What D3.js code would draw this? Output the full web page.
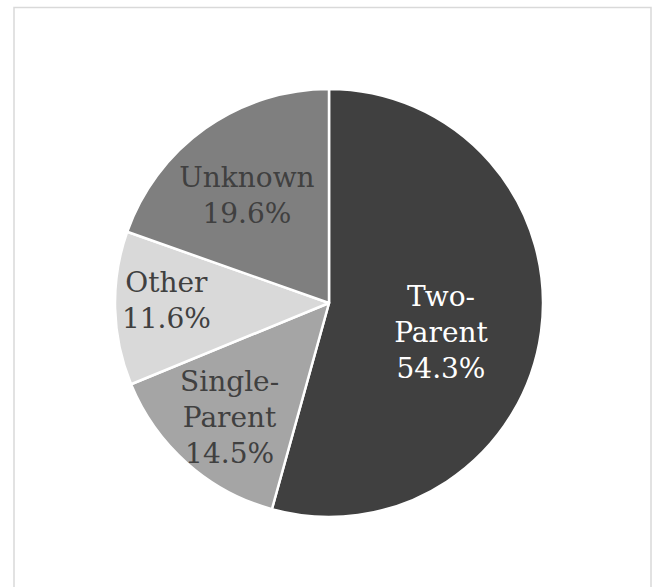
<!DOCTYPE html>
<html>
<head>
<meta charset="utf-8">
<script src="https://cdn.jsdelivr.net/npm/d3@7"></script>
<style>
  html, body { margin: 0; padding: 0; background: #ffffff; }
  svg { display: block; }
</style>
</head>
<body>
<svg id="chart" width="655" height="587"></svg>
<script>
// ---- data ----
const categories = ["Two-Parent", "Single-Parent", "Other", "Unknown"];
const labelLines = [["Two-", "Parent"], ["Single-", "Parent"], ["Other"], ["Unknown"]];
const shares = [54.3, 14.5, 11.6, 19.6];
const percentLabels = ["54.3%", "14.5%", "11.6%", "19.6%"];

// ---- layout / style ----
const W = 655, H = 587;
const cx = 329, cy = 303, R = 214;
const fills = ["#404040", "#a5a5a5", "#d9d9d9", "#7f7f7f"];
const textFills = ["#ffffff", "#404040", "#404040", "#404040"];
const labelRadiusFactor = [0.54, 0.70, 0.76, 0.64];
const labelShift = [[-2.5, 13.5], [0, 1.5], [0, -7], [-3, 4]];
const lineHeight = 36;
const fontSize = 28;

const svg = d3.select("#chart");

svg.append("rect")
  .attr("x", 14).attr("y", 7.5)
  .attr("width", 637).attr("height", 620)
  .attr("fill", "#ffffff")
  .attr("stroke", "#d9d9d9")
  .attr("stroke-width", 1.5);

const data = categories.map((c, i) => ({ name: c, value: shares[i], i }));

const pie = d3.pie().value(d => d.value).sort(null);
const arcs = pie(data);
const arc = d3.arc().innerRadius(0).outerRadius(R);

const g = svg.append("g").attr("transform", `translate(${cx},${cy})`);

g.selectAll("path.slice")
  .data(arcs)
  .enter().append("path")
  .attr("class", "slice")
  .attr("d", arc)
  .attr("fill", d => fills[d.data.i])
  .attr("stroke", "#ffffff")
  .attr("stroke-width", 2.5)
  .attr("stroke-linejoin", "round");

g.selectAll("text.lbl")
  .data(arcs)
  .enter().append("text")
  .attr("class", "lbl")
  .attr("text-anchor", "middle")
  .attr("font-family", "'DejaVu Serif', serif")
  .attr("font-size", fontSize)
  .attr("fill", d => textFills[d.data.i])
  .each(function(d) {
    const lr = R * labelRadiusFactor[d.data.i];
    let [x, y] = d3.arc().innerRadius(lr).outerRadius(lr).centroid(d);
    x += labelShift[d.data.i][0];
    y += labelShift[d.data.i][1];
    const lines = labelLines[d.data.i].concat([percentLabels[d.data.i]]);
    const n = lines.length;
    const t = d3.select(this);
    lines.forEach((ln, k) => {
      t.append("tspan")
        .attr("x", x)
        .attr("y", y + (k - (n - 1) / 2) * lineHeight + fontSize * 0.36)
        .text(ln);
    });
  });
</script>
</body>
</html>
